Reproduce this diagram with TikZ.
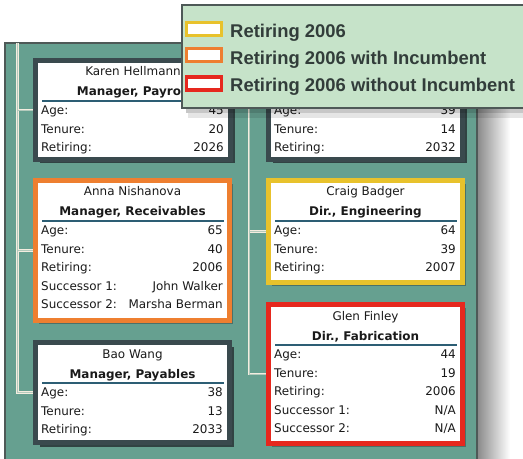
\documentclass[tikz,border=0pt]{standalone}
\usepackage{fontspec}
\setmainfont{DejaVu Sans}
\newfontfamily\legendfont{Liberation Sans}
\usetikzlibrary{calc,shadows}

\definecolor{panelteal}{HTML}{66A090}
\definecolor{panelline}{HTML}{4E5957}
\definecolor{linkcol}{HTML}{F4EDE0}
\definecolor{framedark}{HTML}{3A4A4E}
\definecolor{frameyellow}{HTML}{E8C22C}
\definecolor{frameorange}{HTML}{EE7F30}
\definecolor{framered}{HTML}{E6281E}
\definecolor{rulecol}{HTML}{2D5E74}
\definecolor{legendfill}{HTML}{C6E3C9}
\definecolor{legendtext}{HTML}{323D3A}
\definecolor{shadowcol}{HTML}{2C393B}
\definecolor{textdark}{HTML}{1A1A1A}

\begin{document}
\begin{tikzpicture}[x=1bp, y=-1bp,
    staffbox/.style={draw=#1, line width=5bp, fill=white, inner sep=0pt, outer sep=2.5bp, anchor=north west},
    darkshadow/.style={drop shadow={shadow xshift=4bp, shadow yshift=-4bp, fill=shadowcol, opacity=0.9}},
    softshadow/.style={drop shadow={shadow xshift=3.5bp, shadow yshift=-3.5bp, fill=shadowcol, opacity=0.45}},
    personname/.style={anchor=base, inner sep=0pt, text=textdark, font=\fontsize{12}{14}\selectfont},
    persontitle/.style={personname, font=\fontsize{12}{14}\selectfont\bfseries},
    rowlabel/.style={anchor=base west, inner sep=0pt, text=textdark, font=\fontsize{12}{14}\selectfont},
    rowvalue/.style={rowlabel, anchor=base east},
    titlerule/.style={rulecol, line width=1.4bp},
    legendbox/.style={draw=panelline, line width=2bp, fill=legendfill, inner sep=0pt, outer sep=1bp, anchor=north west},
    swatch/.style={draw=#1, line width=3.2bp, fill=white, inner sep=0pt, minimum width=35bp, minimum height=13bp},
    legendlabel/.style={anchor=base west, inner sep=0pt, text=legendtext, font=\legendfont\bfseries\fontsize{18.5}{20}\selectfont}]
    \useasboundingbox (0,0) rectangle (523,459);
    \clip (0,0) rectangle (523,459);

    % panel
    \fill[panelteal] (5,43) rectangle (477,470);
    \draw[panelline, line width=2bp] (5,470) -- (5,43) -- (477,43) -- (477,470);
    \shade[left color=black!45, right color=white] (478,109) rectangle (510,459);

    % left column
    \node[staffbox=framedark, darkshadow, minimum width=195bp, minimum height=99bp] (karen) at (33,58) {};
    \node[personname] (karenname) at ($(karen.north)+(0,18)$) {Karen Hellmann};
    \node[persontitle] (karentitle) at ($(karen.north)+(0,38)$) {Manager, Payroll};
    \draw[titlerule] ($(karen.north west)+(9,43)$) -- ($(karen.north east)+(-8,43)$);
    \foreach \lab/\val [count=\i from 0] in {Age:/45, Tenure:/20, Retiring:/2026}{
        \node[rowlabel] (karen-l\i) at ($(karen.north west)+(8,56.7+18.5*\i)$) {\lab};
        \node[rowvalue] (karen-v\i) at ($(karen.north east)+(-9,56.7+18.5*\i)$) {\val};
    }

    \node[staffbox=frameorange, softshadow, minimum width=194bp, minimum height=140bp] (anna) at (33,178) {};
    \node[personname] (annaname) at ($(anna.north)+(0,18)$) {Anna Nishanova};
    \node[persontitle] (annatitle) at ($(anna.north)+(0,38)$) {Manager, Receivables};
    \draw[titlerule] ($(anna.north west)+(9,43)$) -- ($(anna.north east)+(-8,43)$);
    \foreach \lab/\val [count=\i from 0] in {Age:/65, Tenure:/40, Retiring:/2006,
        Successor 1:/John Walker, Successor 2:/Marsha Berman}{
        \node[rowlabel] (anna-l\i) at ($(anna.north west)+(8,56.7+18.5*\i)$) {\lab};
        \node[rowvalue] (anna-v\i) at ($(anna.north east)+(-9,56.7+18.5*\i)$) {\val};
    }

    \node[staffbox=framedark, darkshadow, minimum width=194bp, minimum height=100bp] (bao) at (33,340) {};
    \node[personname] (baoname) at ($(bao.north)+(0,18)$) {Bao Wang};
    \node[persontitle] (baotitle) at ($(bao.north)+(0,38)$) {Manager, Payables};
    \draw[titlerule] ($(bao.north west)+(9,43)$) -- ($(bao.north east)+(-8,43)$);
    \foreach \lab/\val [count=\i from 0] in {Age:/38, Tenure:/13, Retiring:/2033}{
        \node[rowlabel] (bao-l\i) at ($(bao.north west)+(8,56.7+18.5*\i)$) {\lab};
        \node[rowvalue] (bao-v\i) at ($(bao.north east)+(-9,56.7+18.5*\i)$) {\val};
    }

    % right column
    \node[staffbox=framedark, darkshadow, minimum width=194bp, minimum height=99bp] (director) at (266,58) {};
    \foreach \lab/\val [count=\i from 0] in {Age:/39, Tenure:/14, Retiring:/2032}{
        \node[rowlabel] (director-l\i) at ($(director.north west)+(8,56.7+18.5*\i)$) {\lab};
        \node[rowvalue] (director-v\i) at ($(director.north east)+(-9,56.7+18.5*\i)$) {\val};
    }

    \node[staffbox=frameyellow, softshadow, minimum width=194bp, minimum height=102bp] (craig) at (266,178) {};
    \node[personname] (craigname) at ($(craig.north)+(0,18)$) {Craig Badger};
    \node[persontitle] (craigtitle) at ($(craig.north)+(0,38)$) {Dir., Engineering};
    \draw[titlerule] ($(craig.north west)+(9,43)$) -- ($(craig.north east)+(-8,43)$);
    \foreach \lab/\val [count=\i from 0] in {Age:/64, Tenure:/39, Retiring:/2007}{
        \node[rowlabel] (craig-l\i) at ($(craig.north west)+(8,56.7+18.5*\i)$) {\lab};
        \node[rowvalue] (craig-v\i) at ($(craig.north east)+(-9,56.7+18.5*\i)$) {\val};
    }

    \node[staffbox=framered, softshadow, minimum width=194bp, minimum height=139bp] (glen) at (266,302) {};
    \node[personname] (glenname) at ($(glen.north)+(0,18)$) {Glen Finley};
    \node[persontitle] (glentitle) at ($(glen.north)+(0,38)$) {Dir., Fabrication};
    \draw[titlerule] ($(glen.north west)+(9,43)$) -- ($(glen.north east)+(-8,43)$);
    \foreach \lab/\val [count=\i from 0] in {Age:/44, Tenure:/19, Retiring:/2006,
        Successor 1:/N\slash A, Successor 2:/N\slash A}{
        \node[rowlabel] (glen-l\i) at ($(glen.north west)+(8,56.7+18.5*\i)$) {\lab};
        \node[rowvalue] (glen-v\i) at ($(glen.north east)+(-9,56.7+18.5*\i)$) {\val};
    }

    % connectors
    \coordinate (ltop) at (17.5,43);
    \coordinate (rtop) at (249,43);
    \foreach \w/\c in {2.6bp/linkcol, 0.5bp/panelteal!45!linkcol}{
        \draw[line width=\w, \c] (ltop) |- (bao.west);
        \draw[line width=\w, \c] (ltop |- karen.west) -- (karen.west);
        \draw[line width=\w, \c] (ltop |- anna.west) -- (anna.west);
        \draw[line width=\w, \c] (rtop) |- (glen.west);
        \draw[line width=\w, \c] (rtop |- craig.west) -- (craig.west);
    }

    % legend
    \fill[black, opacity=0.22] (186,109) rectangle (545,113);
    \fill[black, opacity=0.10] (188,113) rectangle (545,118);
    \node[legendbox, minimum width=360bp, minimum height=103bp] (legend) at (181,4) {};
    \node[swatch=frameyellow] (swyellow) at (204,29) {};
    \node[swatch=frameorange] (sworange) at (204,55) {};
    \node[swatch=framered] (swred) at (204,83.5) {};
    \node[legendlabel] (lbyellow) at (230,37.3) {Retiring 2006};
    \node[legendlabel] (lborange) at (230,64.3) {Retiring 2006 with Incumbent};
    \node[legendlabel] (lbred) at (230,91.7) {Retiring 2006 without Incumbent};
\end{tikzpicture}
\end{document}
